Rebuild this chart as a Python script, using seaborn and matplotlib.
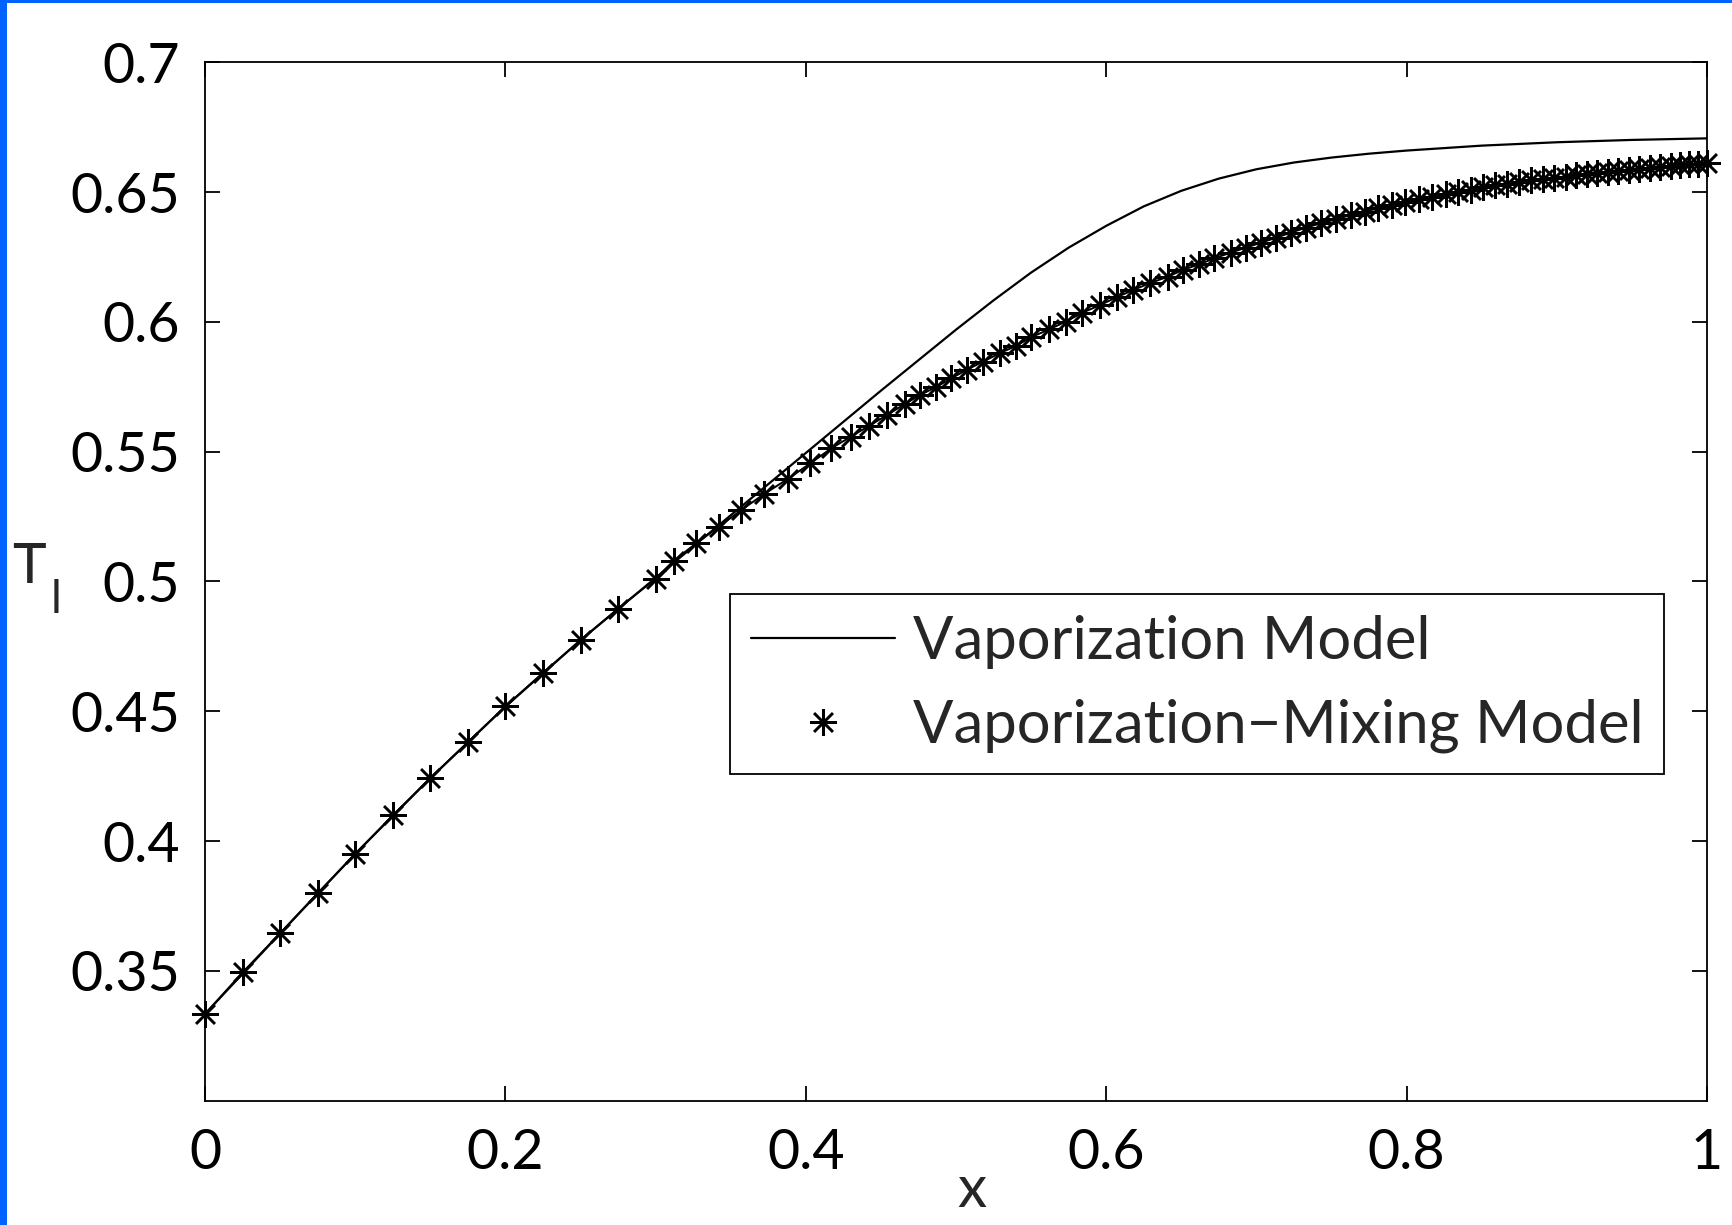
import matplotlib
matplotlib.use("Agg")
import matplotlib.pyplot as plt
from matplotlib.lines import Line2D
from matplotlib.patches import Rectangle
import seaborn as sns
import pandas as pd

# ---------------- data ----------------
vap_x = [0.00, 0.05, 0.10, 0.15, 0.20, 0.25, 0.30, 0.35, 0.40, 0.45, 0.50, 0.525, 0.55,
         0.575, 0.60, 0.625, 0.65, 0.675, 0.70, 0.725, 0.75, 0.775, 0.80, 0.85, 0.90,
         0.95, 1.00]
vap_y = [0.3334, 0.3644, 0.3951, 0.4242, 0.4518, 0.4774, 0.5014, 0.5255, 0.5495,
         0.5735, 0.5970, 0.6083, 0.6190, 0.6286, 0.6370, 0.6445, 0.6505, 0.6552,
         0.6588, 0.6614, 0.6633, 0.6648, 0.6660, 0.6679, 0.6692, 0.6701, 0.6707]

mix_x = [0.000, 0.025, 0.050, 0.075, 0.100, 0.125, 0.150, 0.175, 0.200, 0.225, 0.250, 0.275, 0.300,
         0.312, 0.327, 0.342, 0.357, 0.372, 0.388, 0.403, 0.417, 0.430, 0.442, 0.454, 0.466,
         0.476, 0.487, 0.497, 0.507, 0.518, 0.529, 0.540, 0.550,
         0.562, 0.573, 0.584, 0.596, 0.607, 0.618, 0.629, 0.641, 0.651, 0.662, 0.672, 0.683,
         0.693, 0.703, 0.713, 0.723, 0.733, 0.743, 0.753, 0.763, 0.772, 0.781, 0.790, 0.799,
         0.808, 0.817, 0.826,
         0.834, 0.843, 0.851, 0.859, 0.867, 0.875, 0.883, 0.891, 0.898, 0.906, 0.913, 0.920,
         0.927, 0.934, 0.941, 0.948, 0.955, 0.962, 0.969, 0.976, 0.982, 0.988, 0.994, 1.000]
mix_y = [0.3334, 0.3494, 0.3645, 0.3799, 0.3950, 0.4099, 0.4243, 0.4381, 0.4519, 0.4648, 0.4774, 0.4895, 0.5011,
         0.5080, 0.5147, 0.5211, 0.5275, 0.5336, 0.5395, 0.5455, 0.5513, 0.5558, 0.5599, 0.5641, 0.5684,
         0.5718, 0.5750, 0.5783, 0.5815, 0.5847, 0.5879, 0.5908, 0.5941,
         0.5971, 0.6001, 0.6035, 0.6065, 0.6095, 0.6123, 0.6149, 0.6174, 0.6200, 0.6222, 0.6245, 0.6267,
         0.6286, 0.6305, 0.6324, 0.6344, 0.6363, 0.6380, 0.6395, 0.6412, 0.6425, 0.6437, 0.6450, 0.6461,
         0.6472, 0.6483, 0.6493,
         0.6501, 0.6510, 0.6518, 0.6526, 0.6533, 0.6539, 0.6545, 0.6550, 0.6555, 0.6560, 0.6565, 0.6569,
         0.6573, 0.6577, 0.6581, 0.6585, 0.6589, 0.6593, 0.6597, 0.6601, 0.6604, 0.6607, 0.6610, 0.6612]

x_ticks = [0, 0.2, 0.4, 0.6, 0.8, 1]
x_tick_labels = ["0", "0.2", "0.4", "0.6", "0.8", "1"]
y_ticks = [0.35, 0.40, 0.45, 0.50, 0.55, 0.60, 0.65, 0.70]
y_tick_labels = ["0.35", "0.4", "0.45", "0.5", "0.55", "0.6", "0.65", "0.7"]
series_labels = ["Vaporization Model", "Vaporization\u2212Mixing Model"]
x_label = "x"
y_label_main = "T"
y_label_sub = "l"

# ---------------- style ----------------
sns.set_style("white")
plt.rcParams["font.family"] = ["Lato", "DejaVu Sans"]

W, H, DPI = 1732, 1225, 100
fig = plt.figure(figsize=(W / DPI, H / DPI), dpi=DPI, facecolor="white")
ax = fig.add_axes([205 / W, 1 - 1100.7 / H, (1707 - 205) / W, (1100.7 - 62.3) / H])

vap_df = pd.DataFrame({"x": vap_x, "y": vap_y})
mix_df = pd.DataFrame({"x": mix_x, "y": mix_y})

star = (8, 2, 0)
MS, MEW = 19, 1.8
sns.lineplot(data=vap_df, x="x", y="y", ax=ax, color="black", lw=1.6,
             estimator=None, sort=False, legend=False)
sns.lineplot(data=mix_df, x="x", y="y", ax=ax, color="black", lw=1.4,
             marker=star, markersize=MS, markeredgewidth=MEW, markeredgecolor="black",
             estimator=None, sort=False, legend=False, clip_on=False)

ax.set_xlim(0, 1)
ax.set_ylim(0.3, 0.7)
ax.set_xticks(x_ticks)
ax.set_xticklabels(x_tick_labels)
ax.set_yticks(y_ticks)
ax.set_yticklabels(y_tick_labels)

for s in ax.spines.values():
    s.set_visible(True)
    s.set_color("black")
    s.set_linewidth(1.3)

ax.tick_params(axis="both", which="both", direction="in", length=11, width=1.3,
               top=True, right=True, bottom=True, left=True, labelsize=40, colors="black")
ax.tick_params(axis="x", pad=20)
ax.tick_params(axis="y", pad=18)

ax.set_xlabel(x_label, fontsize=42, labelpad=0)
ax.xaxis.set_label_coords(0.5107, -0.061)

# y label "T" with a large upright subscript "l", as in the original
ax.set_ylabel(y_label_main, fontsize=41, rotation=0, ha="left", va="baseline")
ax.yaxis.set_label_coords(-0.1285, 0.4986)
ax.text(-0.1025, 0.4697, y_label_sub, transform=ax.transAxes, fontsize=33,
        ha="left", va="baseline", clip_on=False)

handles = [
    Line2D([], [], color="black", lw=1.6),
    Line2D([], [], ls="none", color="black", marker=star, markersize=MS, markeredgewidth=MEW),
]
leg = ax.legend(handles, series_labels, loc="upper right", bbox_to_anchor=(0.9714, 0.488),
                borderaxespad=0, fontsize=43, frameon=True, fancybox=False, framealpha=1,
                edgecolor="black", handlelength=2.4, handletextpad=0.3, labelspacing=0.5,
                borderpad=0.35)
leg.get_frame().set_linewidth(1.3)

# blue border strips of the original screenshot
fig.patches.append(Rectangle((0, 0), 7 / W, 1, transform=fig.transFigure,
                             facecolor="#0062ff", edgecolor="none", zorder=10))
fig.patches.append(Rectangle((0, 1 - 3 / H), 1, 3 / H, transform=fig.transFigure,
                             facecolor="#0062ff", edgecolor="none", zorder=10))

fig.savefig("out.png", dpi=DPI, facecolor="white")
